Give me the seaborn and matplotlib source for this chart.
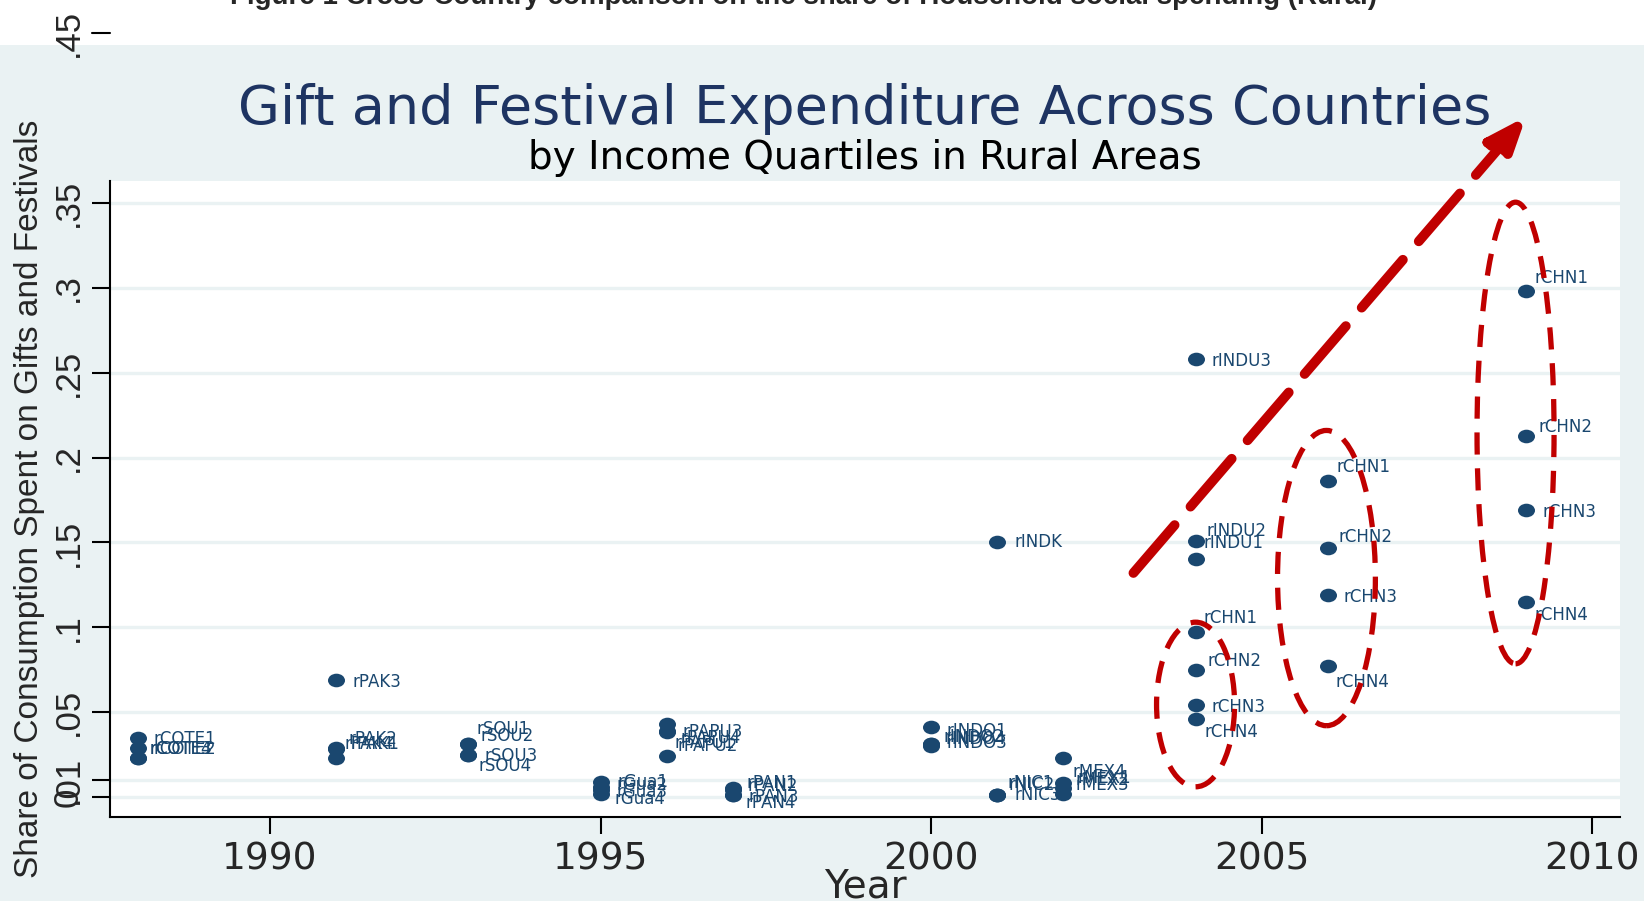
import numpy as np
import pandas as pd
import matplotlib
matplotlib.use("Agg")
import matplotlib.pyplot as plt
import seaborn as sns
from matplotlib.patches import Ellipse, Rectangle
from matplotlib.path import Path

# ---- data ----
labels = ["rCOTE1", "rCOTE2", "rCOTE3", "rCOTE4",
          "rPAK1", "rPAK2", "rPAK3", "rPAK4",
          "rSOU1", "rSOU2", "rSOU3", "rSOU4",
          "rGua1", "rGua2", "rGua3", "rGua4",
          "rPAPU1", "rPAPU2", "rPAPU3", "rPAPU4",
          "rPAN1", "rPAN2", "rPAN3", "rPAN4",
          "rINDO1", "rINDO2", "rINDO3", "rINDO4",
          "rINDK", "rNIC1", "rNIC2", "rNIC3",
          "rMEX1", "rMEX2", "rMEX3", "rMEX4",
          "rINDU1", "rINDU2", "rINDU3",
          "rCHN1", "rCHN2", "rCHN3", "rCHN4",
          "rCHN1", "rCHN2", "rCHN3", "rCHN4",
          "rCHN1", "rCHN2", "rCHN3", "rCHN4"]
years = [1988] * 4 + [1991] * 4 + [1993] * 4 + [1995] * 4 + [1996] * 4 + [1997] * 4 + \
        [2000] * 4 + [2001] * 4 + [2002] * 4 + [2004] * 3 + [2004] * 4 + [2006] * 4 + [2009] * 4
shares = [0.035, 0.029, 0.023, 0.023,
          0.028, 0.029, 0.069, 0.023,
          0.031, 0.031, 0.025, 0.025,
          0.009, 0.006, 0.004, 0.002,
          0.043, 0.024, 0.039, 0.038,
          0.005, 0.004, 0.001, 0.001,
          0.041, 0.031, 0.030, 0.031,
          0.150, 0.001, 0.001, 0.001,
          0.008, 0.005, 0.002, 0.023,
          0.140, 0.151, 0.258,
          0.097, 0.075, 0.054, 0.046,
          0.186, 0.1465, 0.119, 0.077,
          0.298, 0.213, 0.169, 0.115]
# where each marker label sits (labels are nudged apart in the original)
label_y = [0.034, 0.028, 0.028, 0.028,
           0.031, 0.034, 0.068, 0.031,
           0.040, 0.036, 0.024, 0.018,
           0.009, 0.007, 0.003, -0.001,
           0.032, 0.030, 0.038, 0.035,
           0.0085, 0.0065, 0.000, -0.0035,
           0.039, 0.0355, 0.0316, 0.034,
           0.150, 0.008, 0.007, 0.001,
           0.011, 0.010, 0.007, 0.015,
           0.1497, 0.1567, 0.257,
           0.1055, 0.080, 0.053, 0.038,
           0.1946, 0.153, 0.118, 0.068,
           0.306, 0.218, 0.168, 0.107]

yticks = [0, 0.01, 0.05, 0.1, 0.15, 0.2, 0.25, 0.3, 0.35]
ytick_labels = ["0", ".01", ".05", ".1", ".15", ".2", ".25", ".3", ".35"]
xticks = [1990, 1995, 2000, 2005, 2010]

# red dashed ellipses around the China clusters
ell_x = [2004.0, 2005.98, 2008.84]
ell_y = [0.0545, 0.129, 0.2145]
ell_w = [1.18, 1.48, 1.165]
ell_h = [0.097, 0.174, 0.272]
# trend arrow
arrow_start = (2003.06, 0.132)
arrow_end = (2009.0, 0.401)

caption = "Figure 1 Cross-Country comparison on the share of Household social spending (Rural)"
title = "Gift and Festival Expenditure Across Countries"
subtitle = "by Income Quartiles in Rural Areas"

navy = "#1A476F"
title_navy = "#1E3462"
red = "#C00000"
bg = "#EAF2F3"

df = pd.DataFrame({"year": years, "share": shares, "label": labels, "label_y": label_y})

sns.set_theme(style="white")
plt.rcParams["font.family"] = ["DejaVu Sans"]

fig = plt.figure(figsize=(16.44, 9.01), dpi=100, facecolor="white")
fig.patches.append(Rectangle((0, 0), 1, 1 - 45 / 901, transform=fig.transFigure,
                             facecolor=bg, edgecolor="none", zorder=-5))
ax = fig.add_axes([110 / 1644, 84 / 901, 1510 / 1644, 636 / 901])
ax.set_facecolor("white")

# slightly wide dot, like the stretched original
circ = Path.unit_circle()
dot = Path(circ.vertices * np.array([1.25, 1.0]), circ.codes)

sns.scatterplot(data=df, x="year", y="share", marker=dot, s=150, color=navy,
                edgecolor=navy, linewidth=0, ax=ax, zorder=3, legend=False)

ax.set_xlim(1987.58, 2010.42)
ax.set_ylim(-0.0118, 0.363)

ax.set_yticks(yticks, ytick_labels)
ax.set_xticks(xticks)
ax.yaxis.grid(True, color=bg, lw=2.4)
ax.xaxis.grid(False)
ax.set_axisbelow(True)
for side in ["top", "right"]:
    ax.spines[side].set_visible(False)
for side in ["left", "bottom"]:
    ax.spines[side].set_color("black")
    ax.spines[side].set_linewidth(1.5)

ax.tick_params(axis="y", direction="out", length=13, width=1.5, color="black",
               labelrotation=90, pad=5, left=True)
ax.tick_params(axis="x", direction="out", length=12, width=1.5, color="black",
               pad=6, bottom=True, labelsize=27)
for t in ax.get_yticklabels():
    t.set_fontfamily("Liberation Sans")
    t.set_fontsize(25)
    t.set_va("center")

ax.set_xlabel("Year", fontsize=28, va="center")
ax.xaxis.set_label_coords(0.5, -0.1085)
ax.set_ylabel("Share of Consumption Spent on Gifts and Festivals", fontsize=24,
              family="Liberation Sans", va="center")
ax.yaxis.set_label_coords(-0.0536, 0.5)

# marker labels, pushed right less when they sit above/below their dot
px_per_unit = ax.transData.transform((0, 1))[1] - ax.transData.transform((0, 0))[1]
for _, r in df.iterrows():
    dx = max(8, 17 - 0.6 * abs(r["label_y"] - r["share"]) * px_per_unit)
    ax.annotate(r["label"], xy=(r["year"], r["label_y"]), xytext=(dx, 0),
                textcoords="offset pixels", va="center", ha="left",
                fontsize=12, color=navy, zorder=3)

for x, y, w, h in zip(ell_x, ell_y, ell_w, ell_h):
    ax.add_patch(Ellipse((x, y), w, h, fill=False, edgecolor=red, lw=3.8,
                         linestyle=(0, (4.2, 2.6)), zorder=4))

ax.annotate("", xy=arrow_end, xytext=arrow_start, annotation_clip=False,
            arrowprops=dict(arrowstyle="-|>,head_length=1.9,head_width=0.75",
                            color=red, lw=7, linestyle=(0, (6.5, 2.5)),
                            shrinkA=0, shrinkB=0), zorder=5)

# the .45 tick that pokes out above the title area
tick_len = 18 / 1510
ax.plot([-tick_len, 0], [0.45, 0.45], transform=ax.get_yaxis_transform(),
        color="black", lw=1.5, clip_on=False)
ax.text(-(18 + 7) / 1510, 0.45, ".45", transform=ax.get_yaxis_transform(),
        rotation=90, ha="right", va="center", fontsize=25, family="Liberation Sans")

ax.text(0.5, 1.0896, title, transform=ax.transAxes, ha="center", va="baseline",
        fontsize=39, color=title_navy)
ax.text(0.5, 1.0189, subtitle, transform=ax.transAxes, ha="center", va="baseline",
        fontsize=28, color="black")
fig.text(803 / 1644, 1 - 4 / 901, caption, ha="center", va="baseline",
         fontsize=20, fontweight="bold", family="Liberation Sans")

plt.savefig("out.png", dpi=100, facecolor="white")
